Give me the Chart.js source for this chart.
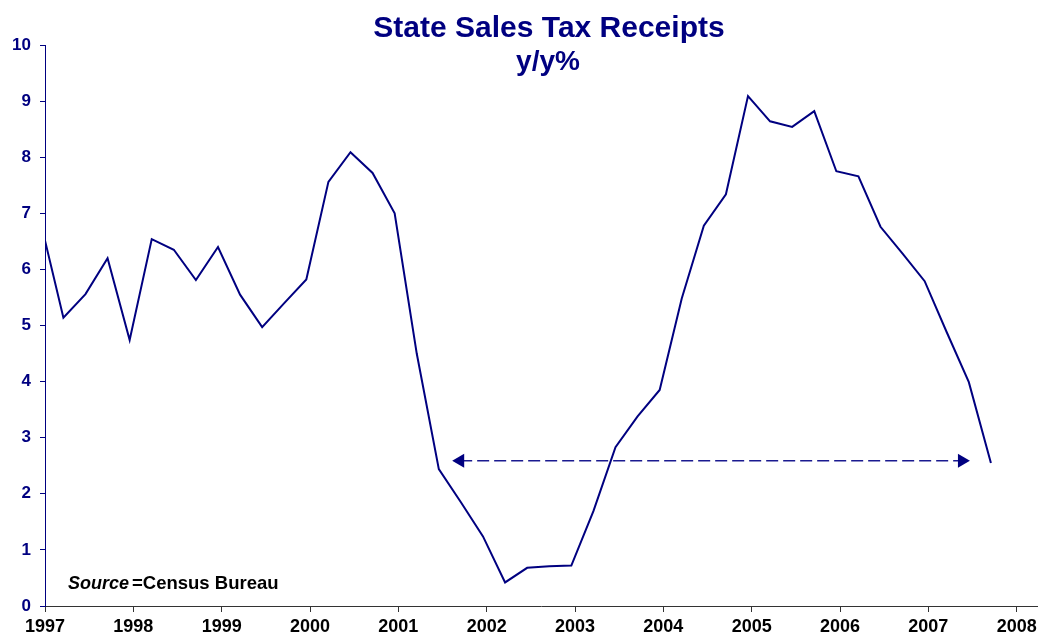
<!DOCTYPE html>
<html>
<head>
<meta charset="utf-8">
<script src="https://cdn.jsdelivr.net/npm/chart.js@4/dist/chart.umd.min.js"></script>
<style>
  html, body { margin: 0; padding: 0; background: #ffffff; }
  #wrap { width: 1041px; height: 640px; position: relative; }
</style>
</head>
<body>
<div id="wrap"><canvas id="c" width="1041" height="640"></canvas></div>
<script>
// ---- Data (quarterly, y/y %) ----
const periods = [
  '1996 Q4',
  '1997 Q1','1997 Q2','1997 Q3','1997 Q4',
  '1998 Q1','1998 Q2','1998 Q3','1998 Q4',
  '1999 Q1','1999 Q2','1999 Q3','1999 Q4',
  '2000 Q1','2000 Q2','2000 Q3','2000 Q4',
  '2001 Q1','2001 Q2','2001 Q3','2001 Q4',
  '2002 Q1','2002 Q2','2002 Q3','2002 Q4',
  '2003 Q1','2003 Q2','2003 Q3','2003 Q4',
  '2004 Q1','2004 Q2','2004 Q3','2004 Q4',
  '2005 Q1','2005 Q2','2005 Q3','2005 Q4',
  '2006 Q1','2006 Q2','2006 Q3','2006 Q4',
  '2007 Q1','2007 Q2','2007 Q3'
];
const salesTaxYoY = [
  6.79,
  5.14, 5.56, 6.20, 4.74,
  6.54, 6.35, 5.81, 6.40,
  5.55, 4.97, 5.40, 5.82,
  7.56, 8.09, 7.72, 7.00,
  4.50, 2.44, 1.85, 1.24,
  0.42, 0.68, 0.71, 0.72,
  1.69, 2.83, 3.38, 3.85,
  5.48, 6.78, 7.34, 9.09,
  8.64, 8.54, 8.82, 7.75,
  7.66, 6.76, 6.28, 5.79,
  4.88, 3.99, 2.55
];
const yearLabels = ['1997','1998','1999','2000','2001','2002','2003','2004','2005','2006','2007','2008'];
const yTickValues = [0,1,2,3,4,5,6,7,8,9,10];
// dashed double-headed arrow annotation (from ~2001 Q3 to ~2007 Q2, at 2.6%)
const arrowFrom = 2001.70;
const arrowTo = 2007.38;
const arrowLevel = 2.59;

const titleText = 'State Sales Tax Receipts';
const subtitleText = 'y/y%';
const sourceLabel = 'Source';
const sourceText = '=Census Bureau';

// ---- Helpers ----
const NAVY = '#000080';
const FONT = 'Arial, "Liberation Sans", Helvetica, sans-serif';
// quarter -> fractional year at middle of the quarter's last month
function periodToX(p) {
  const [y, q] = p.split(' Q');
  const month = Number(q) * 3;
  return Number(y) + (month - 0.5) / 12;
}
const seriesPoints = periods.map((p, i) => ({ x: periodToX(p), y: salesTaxYoY[i] }));
const yearValues = yearLabels.map(Number);

const textPlugin = {
  id: 'texts',
  afterDraw(chart) {
    const ctx = chart.ctx;
    ctx.save();
    ctx.fillStyle = NAVY;
    ctx.textAlign = 'center';
    ctx.textBaseline = 'alphabetic';
    ctx.font = 'bold 30px ' + FONT;
    ctx.fillText(titleText, 549, 37);
    ctx.font = 'bold 28px ' + FONT;
    ctx.fillText(subtitleText, 548, 70);
    // source note
    ctx.fillStyle = '#000000';
    ctx.textAlign = 'left';
    ctx.font = 'italic bold 18px ' + FONT;
    ctx.fillText(sourceLabel, 68, 589);
    const w = ctx.measureText(sourceLabel).width;
    ctx.font = 'bold 18.5px ' + FONT;
    ctx.fillText(sourceText, 68 + w + 3, 589);
    ctx.restore();
  }
};

new Chart(document.getElementById('c'), {
  type: 'line',
  data: {
    datasets: [
      {
        label: 'State Sales Tax Receipts',
        data: seriesPoints,
        borderColor: NAVY,
        borderWidth: 2,
        pointRadius: 0,
        tension: 0,
        fill: false,
        clip: { left: 0, top: 5, right: 5, bottom: 5 }
      },
      {
        label: 'arrow',
        data: [{ x: arrowFrom, y: arrowLevel }, { x: arrowTo, y: arrowLevel }],
        borderColor: '#1a1a90',
        borderWidth: 1.5,
        borderDash: [12, 5],
        pointStyle: 'triangle',
        pointRadius: 8,
        pointRotation: [270, 90],
        pointBackgroundColor: NAVY,
        pointBorderColor: NAVY,
        pointBorderWidth: 0,
        tension: 0,
        fill: false
      }
    ]
  },
  options: {
    responsive: false,
    animation: false,
    devicePixelRatio: 1,
    layout: { autoPadding: false, padding: { top: 45, right: 4, left: 0, bottom: 0 } },
    plugins: {
      legend: { display: false },
      title: { display: false },
      tooltip: { enabled: false }
    },
    scales: {
      x: {
        type: 'linear',
        min: 1997,
        max: 2008.23,
        afterBuildTicks(scale) { scale.ticks = yearValues.map(v => ({ value: v })); },
        afterFit(scale) { scale.height = 34; scale.paddingRight = 0; },
        ticks: {
          autoSkip: false,
          maxRotation: 0,
          padding: 4,
          color: '#000000',
          font: { family: FONT, size: 18, weight: 'bold' },
          callback(value) {
            const i = yearValues.indexOf(value);
            return i >= 0 ? yearLabels[i] : '';
          }
        },
        grid: { drawOnChartArea: false, drawTicks: true, tickLength: 6, color: '#333333', tickWidth: 1 },
        border: { display: true, color: '#333333', width: 1 }
      },
      y: {
        type: 'linear',
        min: 0,
        max: 10,
        afterBuildTicks(scale) { scale.ticks = yTickValues.map(v => ({ value: v })); },
        afterFit(scale) { scale.width = 45; },
        ticks: {
          padding: 9,
          color: NAVY,
          font: { family: FONT, size: 17, weight: 'bold' },
          callback(value) { return String(value); }
        },
        grid: { drawOnChartArea: false, drawTicks: true, tickLength: 5, color: NAVY, tickWidth: 1 },
        border: { display: true, color: NAVY, width: 1 }
      }
    }
  },
  plugins: [textPlugin]
});
</script>
</body>
</html>
